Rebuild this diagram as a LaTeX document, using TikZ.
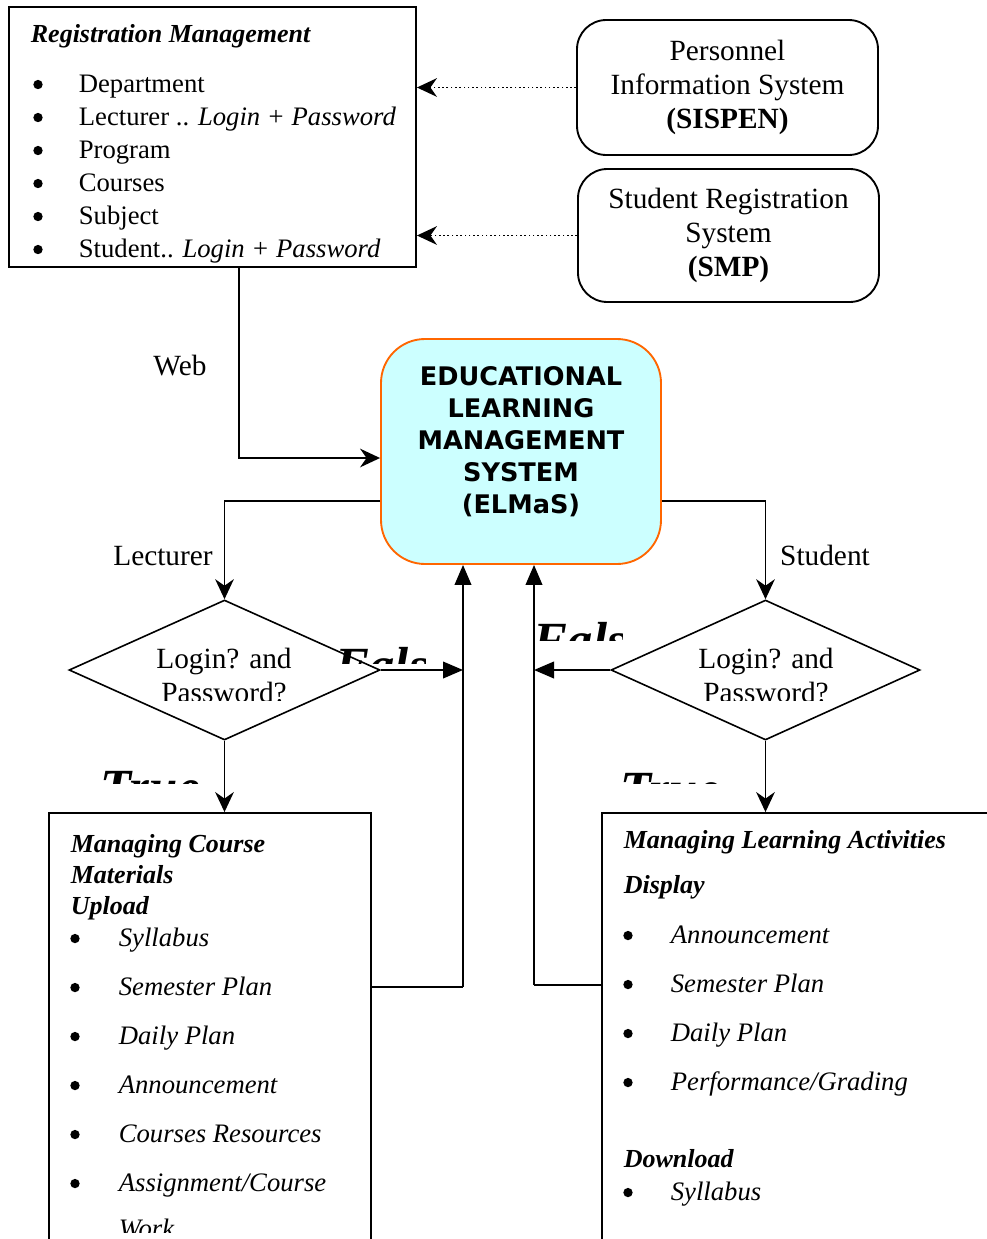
\documentclass[tikz,border=0pt]{standalone}
\usepackage{fontspec}
\setmainfont{Liberation Serif}
\newfontfamily\elmasfont{DejaVu Sans}
\usepackage{tikz}
\usetikzlibrary{arrows.meta,shapes.geometric}
\usepackage{xcolor}
\definecolor{elmasfill}{HTML}{CCFFFF}
\definecolor{elmasline}{HTML}{FF6600}

\tikzset{
  box/.style={draw,line width=1.4pt,inner sep=0pt},
  sysbox/.style={box,rounded corners=22pt,minimum width=225.75pt,minimum height=101.25pt,align=center,font=\fontsize{22}{25.5}\selectfont},
  elmasbox/.style={draw=elmasline,fill=elmasfill,line width=1.4pt,rounded corners=33pt,minimum width=210pt,minimum height=168.75pt,inner sep=0pt},
  elmastext/.style={align=center,inner sep=0pt,font=\elmasfont\bfseries\fontsize{19.2}{24}\selectfont},
  dia/.style={draw,diamond,line width=1.2pt,inner sep=0pt,minimum height=105pt},
  head/.style={anchor=base west,inner sep=0pt,font=\fontsize{19.5}{23}\selectfont\bfseries\itshape},
  entry/.style={anchor=base west,inner sep=0pt,font=\fontsize{20}{24}\selectfont},
  itentry/.style={entry,font=\fontsize{20}{24}\selectfont\itshape},
  bul/.style={circle,fill,inner sep=0pt,minimum size=7pt,yshift=5.6pt},
  lab/.style={anchor=base,inner sep=0pt,font=\fontsize{22}{25.5}\selectfont},
  verdict/.style={anchor=base west,inner sep=0pt,font=\fontsize{38}{40}\selectfont\bfseries\itshape},
  tri/.style={-{Triangle[length=15pt,width=12.5pt]}}
}

\begin{document}
\begin{tikzpicture}[x=0.75pt,y=-0.75pt,line width=1.3pt,>={Stealth[length=15pt,width=14pt]}]
\path[use as bounding box,clip] (0,0) rectangle (987,1239);

\node[box,minimum width=305.25pt,minimum height=195pt] (reg) at (212.5,137) {};
\node[head] (regtitle) at (30,42) {Registration Management};
\begin{scope}
\clip (9,7) rectangle (416,262);
\node[bul] (regb1) at (38,92) {};
\node[entry] (regi1) at (78,92) {Department};
\node[bul] (regb2) at (38,125) {};
\node[entry] (regi2) at (78,125) {Lecturer .. \textit{Login + Password}};
\node[bul] (regb3) at (38,158) {};
\node[entry] (regi3) at (78,158) {Program};
\node[bul] (regb4) at (38,191) {};
\node[entry] (regi4) at (78,191) {Courses};
\node[bul] (regb5) at (38,224) {};
\node[entry] (regi5) at (78,224) {Subject};
\node[bul] (regb6) at (38,257) {};
\node[entry] (regi6) at (78,257) {Student.. \textit{Login + Password}};
\end{scope}

\node[sysbox] (sispen) at (727.5,87.5) {Personnel\\Information System\\\textbf{(SISPEN)}};
\node[sysbox,minimum height=99.75pt] (smp) at (728.5,235.5) {Student Registration\\System\\\textbf{(SMP)}};

\node[elmasbox] (elmas) at (521,451.5) {};
\node[elmastext] (elmaslabel) at (521,442) {EDUCATIONAL\\LEARNING\\MANAGEMENT\\SYSTEM\\(ELMaS)};

\node[dia,minimum width=233.25pt] (ldia) at (224.5,670) {};
\node[dia,minimum width=231.75pt] (rdia) at (765.5,670) {};
\begin{scope}
\clip (0,600) rectangle (987,700);
\node[lab] (lq1) at (224,668) {Login? and};
\node[lab] (lq2) at (224,702) {Password?};
\node[lab] (rq1) at (766,668) {Login? and};
\node[lab] (rq2) at (766,702) {Password?};
\end{scope}

\node[box,minimum width=241.5pt,minimum height=350.25pt] (lbox) at (210,1046.5) {};
\node[box,minimum width=306pt,minimum height=350.25pt] (rbox) at (806,1046.5) {};

\coordinate (webturn) at (239,458);
\coordinate (lecturn) at (224,501);
\coordinate (stuturn) at (762,501);
\coordinate (lup) at (463,987);
\coordinate (rup) at (534,985);

\draw[->,dotted,line width=1.2pt] (sispen.west) -- (reg.east |- sispen.west);
\draw[->,dotted,line width=1.2pt] (smp.west) -- (reg.east |- smp.west);
\draw[->] (reg.south -| webturn) |- (elmas.west |- webturn);
\draw[->] (elmas.west |- lecturn) -| (ldia.north);
\draw[->] (elmas.east |- stuturn) -| (rdia.north);
\draw[->] (ldia.south) -- (lbox.north -| ldia.south);
\draw[->] (rdia.south) -- (rbox.north -| rdia.south);
\draw[tri] (ldia.east) -- (lup |- ldia.east);
\draw[tri] (rdia.west) -- (rup |- rdia.west);
\draw (lbox.east |- lup) -- (lup);
\draw[tri] (lup) -- (elmas.south -| lup);
\draw (rbox.west |- rup) -- (rup);
\draw[tri] (rup) -- (elmas.south -| rup);

\node[lab] (weblab) at (180,375) {Web};
\node[lab] (leclab) at (163,565) {Lecturer};
\node[lab] (stulab) at (825,565) {Student};

\begin{scope}
\clip (330,600) rectangle (425,663);
\node[verdict] (lfalse) at (335,682) {False};
\end{scope}
\begin{scope}
\clip (528,600) rectangle (622,640);
\node[verdict] (rfalse) at (533,657) {False};
\end{scope}
\begin{scope}
\clip (95,740) rectangle (210,783);
\node[verdict] (ltrue) at (100,804) {True};
\end{scope}
\begin{scope}
\clip (615,740) rectangle (730,783);
\node[verdict] (rtrue) at (620,806) {True};
\end{scope}

\node[head] (ltitle1) at (70,852) {Managing Course};
\node[head] (ltitle2) at (70,883) {Materials};
\node[head] (ltitle3) at (70,914) {Upload};
\node[bul] (lb1) at (75,946) {};
\node[itentry] (li1) at (118,946) {Syllabus};
\node[bul] (lb2) at (75,995) {};
\node[itentry] (li2) at (118,995) {Semester Plan};
\node[bul] (lb3) at (75,1044) {};
\node[itentry] (li3) at (118,1044) {Daily Plan};
\node[bul] (lb4) at (75,1093) {};
\node[itentry] (li4) at (118,1093) {Announcement};
\node[bul] (lb5) at (75,1142) {};
\node[itentry] (li5) at (118,1142) {Courses Resources};
\node[bul] (lb6) at (75,1191) {};
\node[itentry] (li6) at (118,1191) {Assignment/Course};
\begin{scope}
\clip (49,1200) rectangle (371,1232);
\node[itentry] (li7) at (118,1237) {Work};
\end{scope}

\node[head] (rtitle) at (623,848) {Managing Learning Activities};
\node[head] (rdisplay) at (623,893) {Display};
\node[bul] (rb1) at (628,943) {};
\node[itentry] (ri1) at (670,943) {Announcement};
\node[bul] (rb2) at (628,992) {};
\node[itentry] (ri2) at (670,992) {Semester Plan};
\node[bul] (rb3) at (628,1041) {};
\node[itentry] (ri3) at (670,1041) {Daily Plan};
\node[bul] (rb4) at (628,1090) {};
\node[itentry] (ri4) at (670,1090) {Performance/Grading};
\node[head] (rdownload) at (623,1167) {Download};
\node[bul] (rb5) at (628,1200) {};
\node[itentry] (ri5) at (670,1200) {Syllabus};
\end{tikzpicture}
\end{document}
